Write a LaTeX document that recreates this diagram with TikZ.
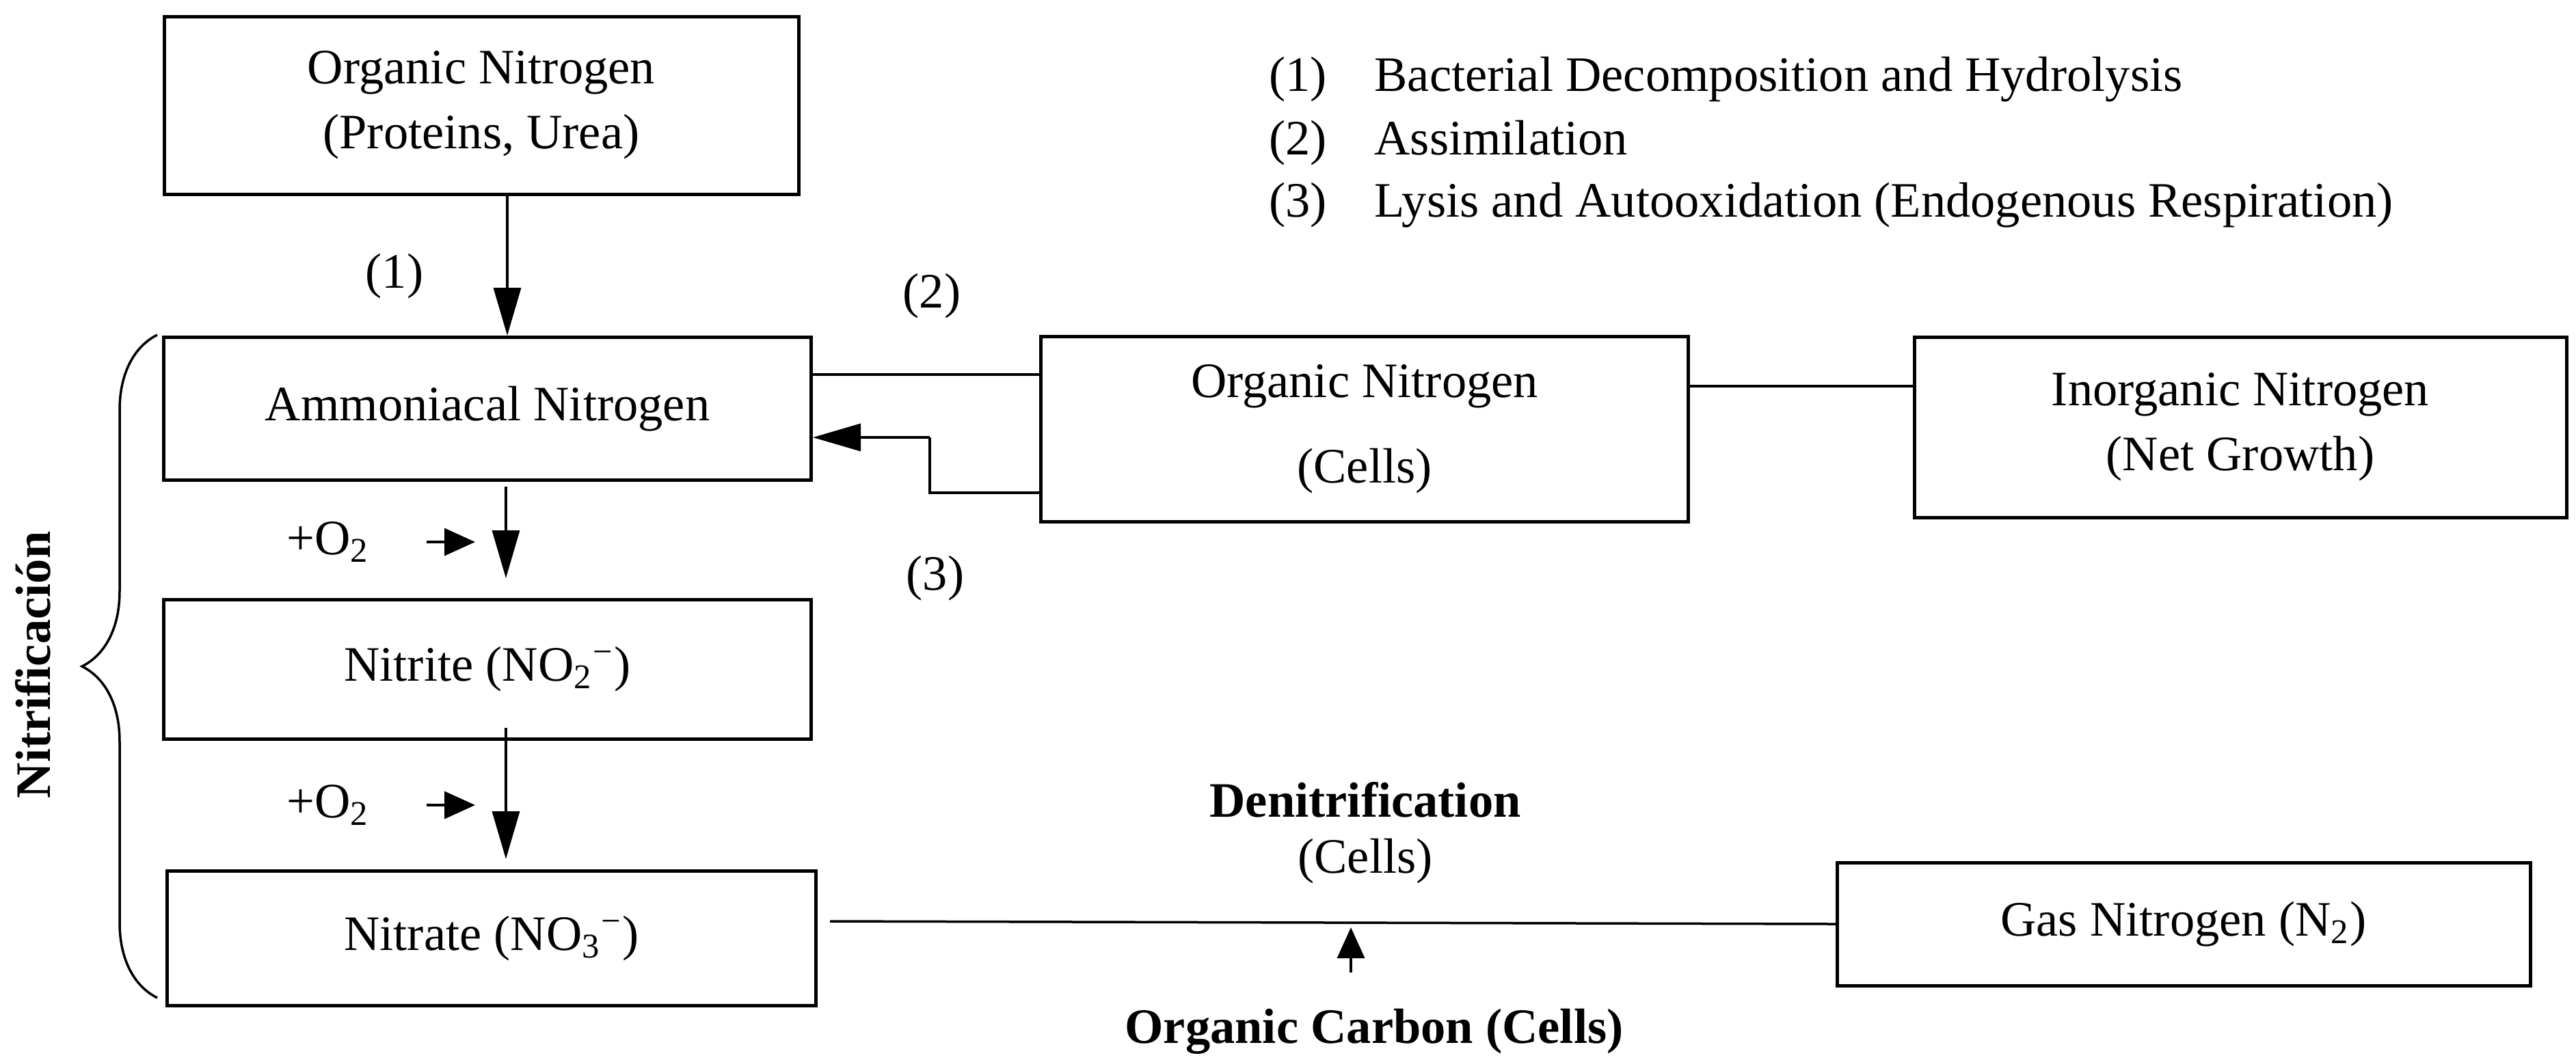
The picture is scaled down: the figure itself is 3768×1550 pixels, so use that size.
\documentclass[tikz,border=0pt]{standalone}
\usepackage{fontspec}
\setmainfont{Liberation Serif}
\usetikzlibrary{arrows.meta,decorations.pathreplacing}
\begin{document}
\begin{tikzpicture}[x=0.2pt,y=-0.2pt,
  box/.style={draw,line width=1pt,inner sep=0pt,font=\fontsize{14.5}{19}\selectfont,align=center},
  lbl/.style={font=\fontsize{14.5}{19}\selectfont,inner sep=1pt},
  ln/.style={line width=0.7pt},
  arr/.style={line width=0.7pt,-{Triangle[length=14pt,width=8pt]}},
  sarr/.style={line width=0.7pt,-{Triangle[length=9pt,width=8pt]}}]
\useasboundingbox (0,0) rectangle (3768,1550);
\node[box,minimum width=928*0.2pt,minimum height=260*0.2pt] (on) at (704,154) {Organic Nitrogen\\(Proteins, Urea)};
\node[box,minimum width=947*0.2pt,minimum height=209*0.2pt] (am) at (713,598) {Ammoniacal Nitrogen};
\node[box,minimum width=947*0.2pt,minimum height=204*0.2pt] (ni) at (713,979) {Nitrite (NO\textsubscript{2}\textsuperscript{−})};
\node[box,minimum width=949*0.2pt,minimum height=197*0.2pt] (na) at (719,1373) {Nitrate (NO\textsubscript{3}\textsuperscript{−})};
\node[box,minimum width=947*0.2pt,minimum height=271*0.2pt] (oc) at (1996,628) {Organic Nitrogen\\[6pt](Cells)};
\node[box,minimum width=954*0.2pt,minimum height=264*0.2pt] (in) at (3277,625) {Inorganic Nitrogen\\(Net Growth)};
\node[box,minimum width=1014*0.2pt,minimum height=180*0.2pt] (gn) at (3194,1352) {Gas Nitrogen (N\textsubscript{2})};
\draw[arr] (on.south) ++(38,0) coordinate (a1) -- (a1 |- am.north);
\draw[ln] (am.east |- 0,548) -- (oc.west |- 0,548);
\draw[ln] (oc.east |- 0,565) -- (in.west |- 0,565);
\coordinate (k) at (1360,721);
\draw[ln] (oc.west |- 0,721) -- (k) -- (1360,640);
\draw[arr] (1360,640) -- (am.east |- 0,640);
\draw[arr] (740,712) -- (740,846);
\draw[arr] (740,1065) -- (740,1257);
\coordinate (nl) at (1214,1348);
\coordinate (nr) at (2687,1352);
\draw[ln] (nl) -- (nr);
\coordinate (ca) at (1976,1423);
\draw[sarr] (ca) -- (1976,1357);
\node[lbl] (o1) at (480,793) {+O\textsubscript{2}};
\node[lbl] (o2) at (480,1178) {+O\textsubscript{2}};
\draw[sarr] (624,793) -- (695,793);
\draw[sarr] (624,1178) -- (695,1178);
\node[lbl] (l1) at (577,404) {(1)};
\node[lbl] (l2) at (1363,433) {(2)};
\node[lbl] (l3) at (1368,846) {(3)};
\node[lbl,font=\fontsize{14.5}{19}\selectfont\bfseries] (dn) at (1997,1170) {Denitrification};
\node[lbl] (dc) at (1997,1260) {(Cells)};
\node[lbl,font=\fontsize{14.5}{19}\selectfont\bfseries] (oc2) at (2010,1509) {Organic Carbon (Cells)};
\node[lbl,anchor=west] (g1) at (1850,116) {(1)\hspace{14pt}Bacterial Decomposition and Hydrolysis};
\node[lbl,anchor=west] (g2) at (1850,209) {(2)\hspace{14pt}Assimilation};
\node[lbl,anchor=west] (g3) at (1850,300) {(3)\hspace{14pt}Lysis and Autooxidation (Endogenous Respiration)};
\draw[line width=0.7pt,decorate,decoration={brace,amplitude=22*0.2pt*5}] (230,1460) -- (230,490);
\node[lbl,rotate=90,font=\fontsize{14.5}{19}\selectfont\bfseries] (nt) at (48,973) {Nitrificación};
\end{tikzpicture}
\end{document}
